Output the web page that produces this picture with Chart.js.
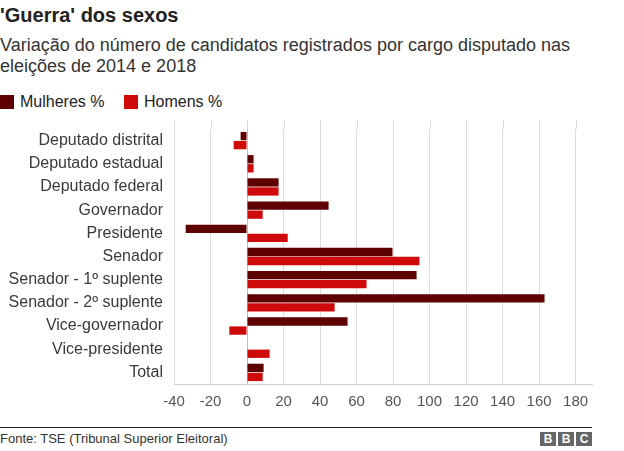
<!DOCTYPE html>
<html lang="pt">
<head>
<meta charset="utf-8">
<script src="https://cdn.jsdelivr.net/npm/chart.js@4"></script>
<style>
    html, body { margin: 0; padding: 0; background: #fff; }
    body { width: 624px; height: 451px; position: relative; overflow: hidden; font-family: 'Liberation Sans', Arial, Helvetica, sans-serif; }
    .title { position: absolute; left: 0; top: 4px; font-size: 20px; line-height: 22px; font-weight: bold; color: #222; }
    .subtitle { position: absolute; left: 0; top: 35px; font-size: 18px; line-height: 20.5px; color: #333; width: 620px; }
    .legend { position: absolute; top: 94px; left: 0; font-size: 16px; line-height: 16px; color: #222; }
    .legend span.item { position: absolute; white-space: nowrap; }
    .legend i { position: absolute; top: 1px; left: 0; width: 14px; height: 14px; }
    .legend b { position: absolute; left: 20px; top: 0; font-weight: normal; }
    #chart-box { position: absolute; left: 0; top: 120px; width: 624px; height: 304px; }
    .rule { position: absolute; left: 0; top: 427px; width: 592px; height: 1px; background: #222; }
    .source { position: absolute; left: 0; top: 432px; font-size: 13px; line-height: 14px; color: #333; }
    .bbc { position: absolute; top: 432px; left: 540px; }
    .bbc span { position: absolute; top: 0; width: 16px; height: 14px; background: #666; color: #fff; font-weight: bold; font-size: 12px; line-height: 14px; text-align: center; }
</style>
</head>
<body>
<div class="title">'Guerra' dos sexos</div>
<div class="subtitle">Variação do número de candidatos registrados por cargo disputado nas eleições de 2014 e 2018</div>
<div class="legend" id="legend"></div>
<div id="chart-box"><canvas id="sexChart"></canvas></div>
<div class="rule"></div>
<div class="source">Fonte: TSE (Tribunal Superior Eleitoral)</div>
<div class="bbc"><span style="left:0">B</span><span style="left:18px">B</span><span style="left:36px">C</span></div>

<script>
// Data (% change 2014 -> 2018)
const cargos = ['Deputado distrital', 'Deputado estadual', 'Deputado federal', 'Governador', 'Presidente',
    'Senador', 'Senador - 1º suplente', 'Senador - 2º suplente', 'Vice-governador', 'Vice-presidente', 'Total'];
const mulheres = [-3.5, 3.6, 17.3, 44.7, -33.6, 79.7, 92.9, 163, 55.1, 0, 9.1];
const homens = [-7.3, 3.6, 17.3, 8.6, 22.3, 94.5, 65.5, 48, -9.7, 12.4, 8.6];
const seriesNames = ['Mulheres %', 'Homens %'];
const xTicks = [-40, -20, 0, 20, 40, 60, 80, 100, 120, 140, 160, 180];

const colors = ['#5f0000', '#cf0a0a'];
const gridColor = '#dcdcdc';
const fontFamily = "'Liberation Sans', Arial, Helvetica, sans-serif";

// HTML legend, matches the BBC layout
document.getElementById('legend').innerHTML = seriesNames.map((name, i) => `
    <span class="item" style="left:${i * 124}px"><i style="background:${colors[i]}"></i><b>${name}</b></span>
`).join('');

// gridlines in the reference run a bit above the first category
const gridExtend = {
    id: 'gridExtend',
    beforeDatasetsDraw(chart) {
        const { ctx, chartArea, scales: { x } } = chart;
        ctx.save();
        ctx.strokeStyle = gridColor;
        ctx.lineWidth = 1;
        x.ticks.forEach(t => {
            const px = Math.round(x.getPixelForValue(t.value)) + 0.5;
            ctx.beginPath();
            ctx.moveTo(px, chartArea.top - 9);
            ctx.lineTo(px, chartArea.top);
            ctx.stroke();
        });
        ctx.restore();
    }
};

new Chart(document.getElementById('sexChart').getContext('2d'), {
    type: 'bar',
    data: {
        labels: cargos,
        datasets: [
            { label: seriesNames[0], data: mulheres, backgroundColor: colors[0] },
            { label: seriesNames[1], data: homens, backgroundColor: colors[1] }
        ]
    },
    options: {
        indexAxis: 'y',
        responsive: true,
        maintainAspectRatio: false,
        animation: false,
        categoryPercentage: 0.78,
        barPercentage: 0.92,
        layout: { padding: { top: 9, right: 32, bottom: 4, left: 0 } },
        plugins: { legend: { display: false }, tooltip: { enabled: false } },
        scales: {
            x: {
                min: -40,
                max: 189,
                afterBuildTicks: scale => { scale.ticks = xTicks.map(v => ({ value: v })); },
                grid: {
                    color: c => (c.tick && c.tick.value === 0 ? '#bdbdbd' : gridColor),
                    drawTicks: false
                },
                border: { display: true, color: '#cfcfcf' },
                ticks: { color: '#555', padding: 9, font: { family: fontFamily, size: 15 } }
            },
            y: {
                grid: { display: false, drawTicks: false },
                border: { display: false },
                afterFit: scale => {
                    scale.width = 174;
                    scale.paddingTop = 0;
                    scale.paddingBottom = 0;
                },
                ticks: { color: '#3a3a3a', padding: 11, font: { family: fontFamily, size: 16 } }
            }
        }
    },
    plugins: [gridExtend]
});
</script>
</body>
</html>
